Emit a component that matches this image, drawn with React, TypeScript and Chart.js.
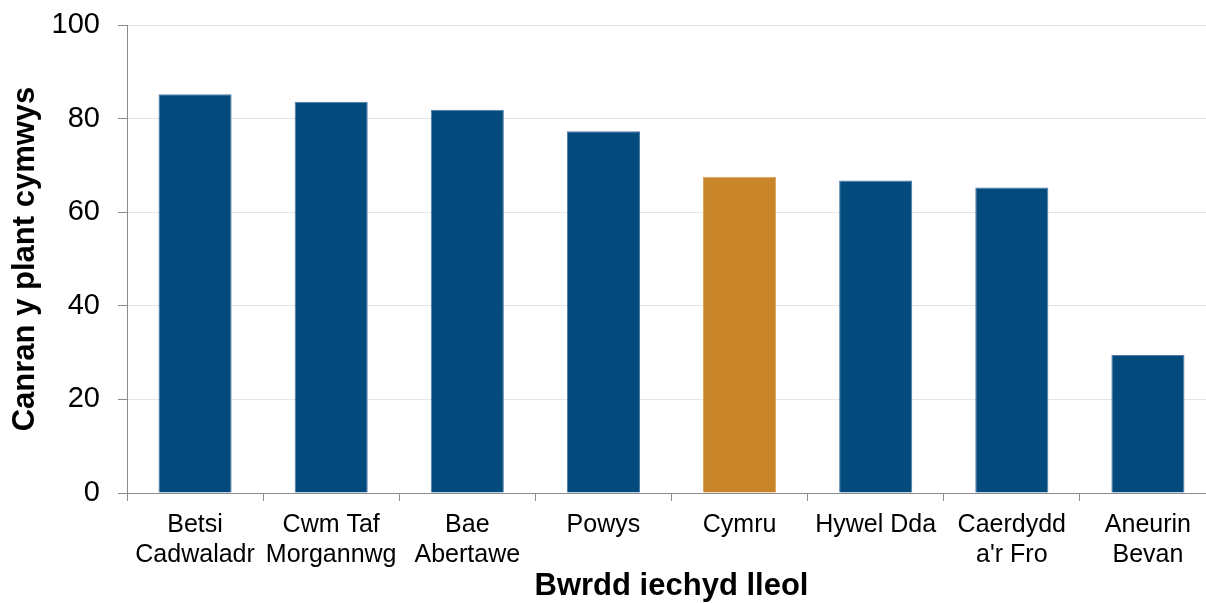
import React, { useEffect, useRef } from "react";
import { Chart, registerables } from "chart.js";

Chart.register(...registerables);

const categories: string[][] = [
  ["Betsi", "Cadwaladr"],
  ["Cwm Taf", "Morgannwg"],
  ["Bae", "Abertawe"],
  ["Powys"],
  ["Cymru"],
  ["Hywel Dda"],
  ["Caerdydd", "a'r Fro"],
  ["Aneurin", "Bevan"],
];
const values: number[] = [85.2, 83.6, 81.9, 77.3, 67.6, 66.8, 65.3, 29.5];
const highlightIndex = 4;
const yTicks: number[] = [0, 20, 40, 60, 80, 100];
const yTitle = "Canran y plant cymwys";
const xTitle = "Bwrdd iechyd lleol";

const BLUE = "#034A7D";
const ORANGE = "#C8852A";
const FONT = "'Liberation Sans', Arial, sans-serif";

export default function App() {
  const ref = useRef<HTMLCanvasElement | null>(null);

  useEffect(() => {
    if (!ref.current) return;
    const colors = values.map((_, i) => (i === highlightIndex ? ORANGE : BLUE));
    const borders = values.map((_, i) => (i === highlightIndex ? "#d9a45e" : "#4f7aa3"));
    const chart = new Chart(ref.current, {
      type: "bar",
      data: {
        labels: categories,
        datasets: [
          {
            data: values,
            backgroundColor: colors,
            borderColor: borders,
            borderWidth: 1,
            categoryPercentage: 1,
            barPercentage: 0.537,
          },
        ],
      },
      options: {
        responsive: false,
        animation: false,
        layout: { padding: { top: 0, right: 0, left: 0, bottom: 0 } },
        plugins: { legend: { display: false }, tooltip: { enabled: false } },
        scales: {
          x: {
            offset: true,
            grid: {
              offset: true,
              drawOnChartArea: false,
              drawTicks: true,
              tickLength: 8,
              color: "#8c8c8c",
              tickColor: "#8c8c8c",
            },
            border: { display: true, color: "#8c8c8c", width: 1 },
            ticks: {
              color: "#000",
              padding: 9,
              maxRotation: 0,
              autoSkip: false,
              font: { family: FONT, size: 25, lineHeight: 1.2 },
            },
            title: {
              display: true,
              text: xTitle,
              color: "#000",
              padding: { top: 0, bottom: 1 },
              font: { family: FONT, size: 31, weight: "bold", lineHeight: 1 },
            },
            afterFit: (scale: any) => {
              scale.height = 110;
            },
          },
          y: {
            min: 0,
            max: 100,
            afterBuildTicks: (scale: any) => {
              scale.ticks = yTicks.map((v) => ({ value: v }));
            },
            grid: {
              color: "#e4e4e4",
              tickColor: "#8c8c8c",
              tickLength: 9,
              drawTicks: true,
            },
            border: { display: true, color: "#8c8c8c", width: 1 },
            ticks: {
              color: "#000",
              padding: 18,
              font: { family: FONT, size: 29, lineHeight: 0.86 },
            },
            title: {
              display: true,
              text: yTitle,
              color: "#000",
              padding: { top: 10, bottom: 0 },
              font: { family: FONT, size: 31, weight: "bold", lineHeight: 1 },
            },
            afterFit: (scale: any) => {
              scale.width = 127;
              scale.paddingTop = 25;
              scale.paddingBottom = 0;
            },
          },
        },
      },
    });
    return () => chart.destroy();
  }, []);

  return (
    <div
      style={{
        position: "fixed",
        left: 0,
        top: 0,
        width: 1206,
        height: 603,
        overflow: "hidden",
        background: "#fff",
      }}
    >
      <canvas ref={ref} width={1216} height={603} style={{ display: "block" }} />
    </div>
  );
}
